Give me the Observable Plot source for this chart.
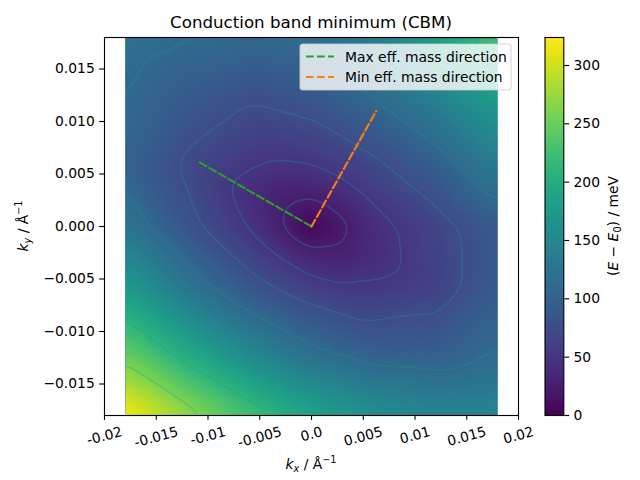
<!DOCTYPE html>
<html><head><meta charset="utf-8">
<script src="https://cdn.jsdelivr.net/npm/d3@7"></script>
<script src="https://cdn.jsdelivr.net/npm/@observablehq/plot@0.6"></script>
<style>
body{margin:0;background:#fff}
#wrap{position:relative;width:640px;height:480px;font-family:"DejaVu Sans",sans-serif;overflow:hidden}
#wrap svg{position:absolute;top:0}
</style></head><body><div id="wrap"></div>
<script>
// ---- data ----
const kxGrid = [-0.018, -0.012, -0.006, 0, 0.006, 0.012, 0.018];
const kyGrid = [0.018, 0.012, 0.006, 0, -0.006, -0.012, -0.018];
const energyGrid = [
  [120, 112, 108, 114, 140, 185, 232],
  [110,  90,  76,  85, 109, 140, 178],
  [101,  70,  52,  51,  70,  97, 136],
  [127,  83,  48,   0,  41,  64,  92],
  [178, 128,  88,  62,  54,  62,  93],
  [247, 195, 150, 116,  96,  94, 111],
  [324, 274, 227, 189, 162, 149, 151]
];
// finer samples around the minimum (null = already in the coarse grid)
const kxInner = [-0.006, -0.003, 0, 0.003, 0.006];
const kyInner = [0.006, 0.003, 0, -0.003, -0.006];
const energyInner = [
  [null, 48.0, null, 59.0, null],
  [39.6, 25.9, 25.7, 39.0, 55.0],
  [null, 23.7, null, 18.5, null],
  [65.7, 50.7, 33.1, 27.4, 39.5],
  [null, 73.0, null, 54.4, null]
];
const maxDirKx = [-0.0108, 0];
const maxDirKy = [0.0061, 0];
const minDirKx = [0, 0.00625];
const minDirKy = [0, 0.0110];
const xTicks = [-0.02, -0.015, -0.01, -0.005, 0, 0.005, 0.01, 0.015, 0.02];
const xTickLabels = ["-0.02", "-0.015", "-0.01", "-0.005", "0.0", "0.005", "0.01", "0.015", "0.02"];
const yTicks = [-0.015, -0.01, -0.005, 0, 0.005, 0.01, 0.015];
const cbarTicks = [0, 50, 100, 150, 200, 250, 300];
const contourLevels = [7, 25, 50, 75, 110, 160, 210, 260];
const eMax = 324;
const titleText = "Conduction band minimum (CBM)";
const legendLabels = ["Max eff. mass direction", "Min eff. mass direction"];
const legendColors = ["#2ca02c", "#ff7f0e"];

// ---- build tables ----
const points = [];
kyGrid.forEach((ky, i) => kxGrid.forEach((kx, j) => points.push({kx, ky, E: energyGrid[i][j]})));
kyInner.forEach((ky, i) => kxInner.forEach((kx, j) => {
  if (energyInner[i][j] != null) points.push({kx, ky, E: energyInner[i][j]});
}));
const maxDir = maxDirKx.map((kx, i) => ({kx, ky: maxDirKy[i]}));
const minDir = minDirKx.map((kx, i) => ({kx, ky: minDirKy[i]}));

const FS = 13.89, LW = 1.11, TICK = 4.86;
const bounds = {x1: d3.min(kxGrid), x2: d3.max(kxGrid), y1: d3.min(kyGrid), y2: d3.max(kyGrid)};
function textWidth(s) {
  let w = 0;
  for (const c of s) w += c === "-" ? 0.361 : c === "." ? 0.318 : 0.636;
  return w * FS;
}

const main = Plot.plot({
  width: 640, height: 480,
  marginLeft: 104, marginRight: 122, marginTop: 37, marginBottom: 65,
  style: {fontFamily: "DejaVu Sans", fontSize: FS + "px", background: "transparent", color: "black", overflow: "visible"},
  x: {domain: [-0.02, 0.02], label: null},
  y: {domain: [-0.018, 0.018], label: null},
  color: {type: "linear", scheme: "viridis", domain: [0, eMax]},
  marks: [
    Plot.raster(points, {x: "kx", y: "ky", fill: "E", interpolate: "barycentric", ...bounds, blur: 8}),
    ...contourLevels.map(t => Plot.contour(points, {
      x: "kx", y: "ky", value: "E", interpolate: "barycentric", ...bounds, pixelSize: 1, blur: 8,
      thresholds: [t], fill: "none",
      stroke: d3.interpolateViridis(Math.min(1, 0.22 + 0.6 * t / eMax)), strokeWidth: 1.5, strokeOpacity: 0.65
    })),
    Plot.line(maxDir, {x: "kx", y: "ky", stroke: legendColors[0], strokeWidth: 2.08, strokeDasharray: "7.7,3.3"}),
    Plot.line(minDir, {x: "kx", y: "ky", stroke: legendColors[1], strokeWidth: 2.08, strokeDasharray: "7.7,3.3"}),
    Plot.frame({stroke: "black", strokeWidth: LW}),
    Plot.axisX(xTicks, {tickSize: TICK, strokeWidth: LW, tickFormat: () => "", label: null}),
    ...xTicks.map((v, i) => Plot.text([v], {
      x: d => d, frameAnchor: "bottom", text: () => xTickLabels[i],
      rotate: -15, textAnchor: "middle", lineAnchor: "middle",
      dy: 11 + (10 + textWidth(xTickLabels[i]) * 0.2588) / 2, fontSize: FS, fill: "black"
    })),
    Plot.axisY(yTicks, {tickSize: TICK, tickPadding: TICK, strokeWidth: LW, tickFormat: d3.format(".3f"), label: null})
  ]
});
main.style.left = "0px";

// hide the isoline segments that run along the border of the sampled region
const sx = main.scale("x"), sy = main.scale("y");
const cx0 = sx.apply(bounds.x1), cx1 = sx.apply(bounds.x2);
const cy0 = sy.apply(bounds.y2), cy1 = sy.apply(bounds.y1);
const ms = d3.select(main);
ms.insert("defs", ":first-child").append("clipPath").attr("id", "kclip")
  .append("rect").attr("x", cx0 + 1.2).attr("y", cy0 + 1.2).attr("width", cx1 - cx0 - 2.4).attr("height", cy1 - cy0 - 2.4);
ms.selectAll('g[aria-label="contour"]').each(function () {
  const holder = document.createElementNS("http://www.w3.org/2000/svg", "g");
  holder.setAttribute("clip-path", "url(#kclip)");
  this.parentNode.insertBefore(holder, this);
  holder.appendChild(this);
});

const cbar = Plot.plot({
  width: 110, height: 480,
  marginLeft: 14.5, marginRight: 76.7, marginTop: 37, marginBottom: 65,
  style: {fontFamily: "DejaVu Sans", fontSize: FS + "px", background: "transparent", color: "black", overflow: "visible"},
  x: {domain: [0, 1], axis: null},
  y: {domain: [0, eMax], label: null},
  color: {type: "linear", scheme: "viridis", domain: [0, eMax]},
  marks: [
    Plot.raster({fill: (x, y) => y, x1: 0, x2: 1, y1: 0, y2: eMax}),
    Plot.frame({stroke: "black", strokeWidth: LW}),
    Plot.axisY(cbarTicks, {anchor: "right", tickSize: TICK, tickPadding: TICK, strokeWidth: LW, label: null})
  ]
});
cbar.style.left = "530px";

const wrap = document.getElementById("wrap");
wrap.appendChild(main);
wrap.appendChild(cbar);

// ---- text extras ----
ms.append("text").attr("x", 311).attr("y", 28).attr("text-anchor", "middle")
  .attr("font-size", 16.67).attr("font-family", "DejaVu Sans").attr("fill", "black").text(titleText);

function mathLabel(sel, sub) {
  sel.append("tspan").attr("font-style", "italic").text("k");
  sel.append("tspan").attr("font-style", "italic").attr("font-size", 9.7).attr("dy", 2.9).text(sub);
  sel.append("tspan").attr("dy", -2.9).text(" / Å");
  sel.append("tspan").attr("font-size", 9.7).attr("dy", -5.6).text("−1");
}
const xl = ms.append("text").attr("x", 311).attr("y", 469).attr("text-anchor", "middle")
  .attr("font-size", FS).attr("font-family", "DejaVu Sans").attr("fill", "black");
mathLabel(xl, "x");
const yl = ms.append("text").attr("transform", "translate(28,226) rotate(-90)").attr("text-anchor", "middle")
  .attr("font-size", FS).attr("font-family", "DejaVu Sans").attr("fill", "black");
mathLabel(yl, "y");

// legend
const lg = ms.append("g").attr("text-anchor", "start");
lg.append("rect").attr("x", 300).attr("y", 44).attr("width", 211).attr("height", 46).attr("rx", 3)
  .attr("fill", "white").attr("fill-opacity", 0.8).attr("stroke", "#cccccc").attr("stroke-opacity", 0.8).attr("stroke-width", 1.1);
legendLabels.forEach((lab, i) => {
  const cy = 56.5 + i * 20.5;
  lg.append("line").attr("x1", 306).attr("x2", 334).attr("y1", cy).attr("y2", cy)
    .attr("stroke", legendColors[i]).attr("stroke-width", 2.08).attr("stroke-dasharray", "7.7,3.3");
  lg.append("text").attr("x", 345).attr("y", cy + 5).attr("text-anchor", "start").attr("font-size", FS)
    .attr("font-family", "DejaVu Sans").attr("fill", "black").text(lab);
});

// colorbar label
const cl = d3.select(cbar).append("text").attr("transform", "translate(88,226) rotate(-90)")
  .attr("text-anchor", "middle").attr("font-size", FS).attr("font-family", "DejaVu Sans").attr("fill", "black");
cl.append("tspan").text("(");
cl.append("tspan").attr("font-style", "italic").text("E");
cl.append("tspan").text(" − ");
cl.append("tspan").attr("font-style", "italic").text("E");
cl.append("tspan").attr("font-size", 9.7).attr("dy", 2.9).text("0");
cl.append("tspan").attr("dy", -2.9).text(") / meV");
</script></body></html>
